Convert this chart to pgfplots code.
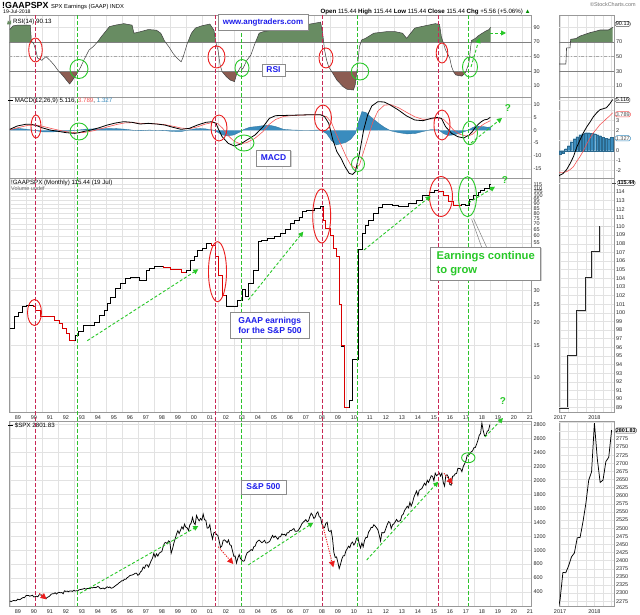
\documentclass[border=0pt]{standalone}
\usepackage{fontspec}
\setmainfont{Liberation Sans}
\usepackage{pgfplots}
\usepackage{pgfplotstable}
\pgfplotsset{compat=1.18}
\usetikzlibrary{arrows.meta,shadows}

\definecolor{rsigreen}{RGB}{104,140,98}
\definecolor{rsibrown}{RGB}{140,92,82}
\definecolor{histblue}{RGB}{58,140,190}
\definecolor{vred}{RGB}{200,40,85}
\definecolor{vgreen}{RGB}{45,195,45}
\definecolor{ered}{RGB}{235,30,30}
\definecolor{egreen}{RGB}{40,200,40}
\definecolor{txtblue}{RGB}{30,30,235}
\definecolor{gridc}{RGB}{226,226,226}
\definecolor{sigred}{RGB}{245,85,85}

\newcommand{\tlf}{\fontsize{5.5}{6}\selectfont}
\newcommand{\lgd}{\fontsize{6.2}{7}\selectfont}

\pgfplotsset{
  base/.style={scale only axis, axis line style={draw=black!40, line width=0.4pt},
    major tick length=0pt, minor tick length=0pt,
    ticklabel style={font=\tlf, text=black!85}, yticklabel pos=right,
    grid style={draw=gridc, line width=0.4pt}, ymajorgrids,
    /pgf/number format/assume math mode=true, /pgf/number format/1000 sep={},
    yticklabel style={xshift=-1.5bp}, extra y tick style={grid=major, yticklabels={}}},
  mainx/.style={base, width=522.5bp, xmin=1988.45, xmax=2021.1,
    xtick={1989,...,2021}, minor xtick={1988.5,1989.5,...,2020.5}, xminorgrids, xticklabels={}},
  minix/.style={base, width=55bp, xmin=2016.97, xmax=2018.57, xtick={2017,2018},
    minor xtick={2017.25,2017.5,2017.75,2018.25,2018.5}, xmajorgrids, xminorgrids, xticklabels={}},
  yrlabels/.style={xticklabels={89,90,91,92,93,94,95,96,97,98,99,00,01,02,03,04,05,06,07,08,09,10,11,12,13,14,15,16,17,18,19,20,21}},
}

% ---------------- data ----------------
\pgfplotstableread[row sep=\\]{x v\\
1988.50 87\\ 1988.70 92\\ 1989.00 93\\ 1989.78 93\\ 1989.85 71\\ 1989.99 68\\ 1990.12 59\\ 1990.24 48\\ 1990.50 45\\ 1990.76 50\\
1991.01 45\\ 1991.27 38.6\\ 1991.52 31\\ 1991.78 25\\ 1992.04 18\\ 1992.24 12.7\\ 1992.42 18\\ 1992.68 26\\ 1992.93 36\\ 1993.19 48\\
1993.45 59\\ 1993.70 63.5\\ 1993.96 69.5\\ 1994.21 77\\ 1994.47 84\\ 1994.73 91\\ 1995.11 93\\ 1995.62 95\\ 1996.14 93\\ 1996.26 82\\
1996.65 84\\ 1997.16 87\\ 1997.67 86\\ 1997.93 82\\ 1998.18 71\\ 1998.44 63.5\\ 1998.70 54.5\\ 1998.95 48\\ 1999.21 43\\ 1999.34 50\\
1999.59 68\\ 1999.85 82\\ 2000.10 89\\ 2000.49 92\\ 2001.00 94.5\\ 2001.26 86\\ 2001.39 68\\ 2001.51 59\\ 2001.64 38.6\\ 2001.77 29.5\\
2002.03 22.7\\ 2002.28 18\\ 2002.54 16\\ 2002.67 26\\ 2002.92 36\\ 2003.05 33\\ 2003.31 45\\ 2003.56 52\\ 2003.82 68\\ 2004.08 82\\
2004.33 84\\ 2004.84 86\\ 2005.30 88\\ 2005.87 89\\ 2006.40 91\\ 2006.89 93\\ 2007.66 96\\ 2007.92 97\\ 2008.05 82\\ 2008.17 59\\
2008.30 45\\ 2008.43 36\\ 2008.69 27\\ 2008.94 18\\ 2009.33 9\\ 2009.58 5.5\\ 2009.97 4.5\\ 2010.09 12\\ 2010.22 36\\ 2010.35 63.5\\
2010.48 72.7\\ 2010.73 75\\ 2011.25 82\\ 2012.01 84\\ 2012.60 84\\ 2013.04 82\\ 2013.30 75\\ 2013.55 82\\ 2013.81 89\\ 2014.32 91.5\\
2015.09 95\\ 2015.35 94\\ 2015.47 77\\ 2015.60 68\\ 2015.73 59\\ 2015.99 48\\ 2016.11 36\\ 2016.24 29\\ 2016.37 25\\ 2016.75 23.5\\
2016.97 28\\ 2017.17 40\\ 2017.21 45\\ 2017.29 62\\ 2017.35 72\\ 2017.60 75\\ 2017.75 78\\ 2017.95 81\\ 2018.10 83\\ 2018.25 85\\
2018.45 87\\ 2018.54 90.13\\
}\rsimain

\pgfplotstableread[row sep=\\]{x v\\
2016.97 40\\ 2017.17 40\\ 2017.19 62\\ 2017.29 62\\ 2017.31 73.6\\ 2017.44 74.5\\ 2017.46 74.5\\ 2017.58 78\\ 2017.73 80.4\\
2017.87 82.7\\ 2018.02 84.4\\ 2018.16 86.3\\ 2018.40 86.3\\ 2018.47 88\\ 2018.53 90.13\\
}\rsimini

\pgfplotstableread[row sep=\\]{x v\\
1988.50 0.38\\ 1988.96 1.68\\ 1989.47 2.33\\ 1989.86 2.33\\ 1990.24 1.68\\ 1990.50 1.03\\ 1991.01 0.12\\ 1991.52 -0.41\\
1992.04 -0.93\\ 1992.55 -1.19\\ 1992.80 -0.93\\ 1993.06 -0.54\\ 1993.57 0.12\\ 1994.09 1.03\\ 1994.60 2.07\\ 1995.11 2.85\\
1995.62 3.37\\ 1996.14 3.11\\ 1996.65 2.46\\ 1997.16 2.72\\ 1997.67 2.46\\ 1998.18 2.07\\ 1998.70 1.16\\ 1999.21 0.38\\
1999.72 0.77\\ 2000.23 2.07\\ 2000.75 3.11\\ 2001.13 3.37\\ 2001.39 2.72\\ 2001.51 0.77\\ 2001.77 -2.49\\ 2002.15 -5.09\\
2002.54 -6.14\\ 2002.92 -5.35\\ 2003.31 -3.79\\ 2003.82 -1.84\\ 2004.33 1.42\\ 2004.72 4.67\\ 2005.10 5.71\\ 2005.87 5.84\\
2006.64 5.97\\ 2007.41 6.10\\ 2007.92 6.10\\ 2008.17 5.32\\ 2008.43 2.72\\ 2008.69 -3.79\\ 2008.94 -8.35\\ 2009.20 -10.95\\
2009.45 -14.21\\ 2009.71 -16.81\\ 2009.92 -17.20\\ 2010.09 -16.15\\ 2010.35 -8.99\\ 2010.61 0.12\\ 2010.86 5.97\\ 2011.12 9.49\\
2011.50 11.18\\ 2011.89 11.05\\ 2012.27 9.88\\ 2012.78 7.93\\ 2013.30 5.58\\ 2013.81 4.02\\ 2014.32 3.76\\ 2014.83 4.67\\
2015.22 5.06\\ 2015.47 4.67\\ 2015.73 1.42\\ 2016.11 -1.19\\ 2016.50 -2.49\\ 2016.88 -3.0\\ 2017.00 -2.5\\ 2017.19 -1.9\\
2017.39 -0.6\\ 2017.58 1.07\\ 2017.78 2.4\\ 2017.97 3.4\\ 2018.16 4.1\\ 2018.35 4.3\\ 2018.53 5.116\\
}\macdmain

\pgfplotstableread[row sep=\\]{x v\\
1988.50 0.2\\ 1989.00 1.0\\ 1989.60 1.9\\ 1990.10 2.1\\ 1990.60 1.5\\ 1991.10 0.7\\ 1991.60 0.0\\ 1992.10 -0.6\\ 1992.70 -1.0\\
1993.20 -0.8\\ 1993.70 -0.2\\ 1994.20 0.6\\ 1994.70 1.5\\ 1995.20 2.3\\ 1995.70 2.9\\ 1996.20 3.0\\ 1996.70 2.7\\ 1997.20 2.6\\
1997.70 2.5\\ 1998.20 2.2\\ 1998.70 1.6\\ 1999.20 0.9\\ 1999.70 0.6\\ 2000.20 1.3\\ 2000.70 2.4\\ 2001.20 3.1\\ 2001.50 2.6\\
2001.80 0.8\\ 2002.10 -1.8\\ 2002.50 -4.2\\ 2002.90 -5.3\\ 2003.30 -4.8\\ 2003.80 -3.2\\ 2004.30 -0.6\\ 2004.70 2.3\\ 2005.10 4.2\\
2005.60 5.4\\ 2006.20 5.8\\ 2007.00 6.0\\ 2007.90 6.0\\ 2008.30 5.3\\ 2008.60 3.0\\ 2008.90 -1.5\\ 2009.20 -5.8\\ 2009.50 -10.0\\
2009.80 -13.5\\ 2010.10 -14.8\\ 2010.35 -13.5\\ 2010.60 -8.5\\ 2010.90 -2.5\\ 2011.20 3.5\\ 2011.50 7.5\\ 2011.90 9.8\\
2012.30 10.0\\ 2012.80 8.8\\ 2013.30 7.0\\ 2013.80 5.3\\ 2014.30 4.3\\ 2014.80 4.4\\ 2015.30 4.8\\ 2015.60 4.3\\ 2015.90 2.5\\
2016.20 0.3\\ 2016.60 -1.5\\ 2017.00 -2.2\\ 2017.19 -2.1\\ 2017.39 -1.6\\ 2017.58 -0.6\\ 2017.78 0.7\\ 2017.97 1.8\\ 2018.16 2.6\\
2018.35 3.2\\ 2018.53 3.789\\
}\sigmain

\pgfplotstableread[row sep=\\]{x v\\
1988.50 0\\ 1988.50 0.2\\ 1989.00 0.75\\ 1989.60 0.4\\ 1990.10 -0.1\\ 1990.60 -0.65\\ 1991.10 -0.65\\ 1991.60 -0.5\\ 1992.10 -0.35\\
1992.70 0\\ 1993.20 0.45\\ 1993.70 0.55\\ 1994.20 0.65\\ 1994.70 0.75\\ 1995.20 0.65\\ 1995.70 0.43\\ 1996.20 0.05\\ 1996.70 -0.2\\
1997.20 0.1\\ 1997.70 -0.05\\ 1998.20 -0.15\\ 1998.70 -0.45\\ 1999.20 -0.5\\ 1999.70 0.15\\ 2000.20 0.7\\ 2000.70 0.6\\ 2001.20 0.1\\
2001.50 -0.8\\ 2001.80 -1.8\\ 2002.10 -2.2\\ 2002.50 -1.8\\ 2002.90 -0.6\\ 2003.10 0.3\\ 2003.50 1.2\\ 2003.80 1.4\\ 2004.30 1.8\\ 2004.70 2.0\\
2005.10 1.5\\ 2005.60 0.4\\ 2006.20 0.1\\ 2007.00 0\\ 2007.90 0.1\\ 2008.30 -1.3\\ 2008.60 -4.0\\ 2008.90 -5.7\\ 2009.20 -5.2\\
2009.50 -4.7\\ 2009.80 -3.5\\ 2010.10 -1.2\\ 2010.30 3.5\\ 2010.50 7.3\\ 2010.75 7.0\\ 2011.00 5.5\\ 2011.30 4.0\\ 2011.60 2.5\\
2011.90 1.2\\ 2012.30 -0.2\\ 2012.80 -0.9\\ 2013.30 -1.4\\ 2013.80 -1.3\\ 2014.30 -0.5\\ 2014.80 0.25\\ 2015.30 0.15\\ 2015.60 -1.3\\
2015.90 -2.0\\ 2016.20 -1.8\\ 2016.60 -1.2\\ 2017.00 -0.3\\ 2017.19 0.2\\ 2017.39 1.0\\ 2017.58 1.5\\ 2017.78 1.6\\ 2017.97 1.5\\
2018.16 1.4\\ 2018.35 1.2\\ 2018.53 1.327\\ 2018.53 0\\
}\histmain

\pgfplotstableread[row sep=\\]{x v\\
2016.97 -2.5\\ 2017.08 -2.3\\ 2017.19 -1.9\\ 2017.29 -1.3\\ 2017.39 -0.6\\ 2017.48 0.3\\ 2017.58 1.07\\ 2017.68 1.8\\ 2017.78 2.4\\
2017.88 2.9\\ 2017.97 3.4\\ 2018.07 3.8\\ 2018.16 4.1\\ 2018.26 4.2\\ 2018.35 4.3\\ 2018.45 4.7\\ 2018.53 5.116\\
}\macdmini

\pgfplotstableread[row sep=\\]{x v\\
2016.97 -2.2\\ 2017.08 -2.2\\ 2017.19 -2.1\\ 2017.29 -1.9\\ 2017.39 -1.6\\ 2017.48 -1.1\\ 2017.58 -0.6\\ 2017.68 0.0\\ 2017.78 0.7\\
2017.88 1.3\\ 2017.97 1.8\\ 2018.07 2.2\\ 2018.16 2.6\\ 2018.26 2.9\\ 2018.35 3.2\\ 2018.45 3.5\\ 2018.53 3.789\\
}\sigmini

\pgfplotstableread[row sep=\\]{x v\\
2017.000 -0.35\\ 2017.083 -0.25\\ 2017.167 0.2\\ 2017.250 0.5\\ 2017.333 0.9\\ 2017.417 1.2\\ 2017.500 1.4\\ 2017.583 1.6\\
2017.667 1.7\\ 2017.750 1.8\\ 2017.833 1.8\\ 2017.917 1.75\\ 2018.000 1.7\\ 2018.083 1.6\\ 2018.167 1.5\\ 2018.250 1.35\\
2018.333 1.25\\ 2018.417 1.2\\ 2018.500 1.327\\
}\histmini

\pgfplotstableread[row sep=\\]{x v\\
1988.52 18.5\\ 1988.80 21.8\\ 1989.05 22.7\\ 1989.25 24.5\\ 1989.55 25.0\\ 1989.95 24.5\\ 1990.12 23.5\\ 1990.40 21.8\\
1990.90 21.6\\ 1991.30 20.7\\ 1991.60 19.8\\ 1991.80 18.6\\ 1992.00 17.5\\ 1992.20 16.0\\ 1992.60 17.1\\ 1992.80 18.0\\
1993.10 19.4\\ 1993.80 20.2\\ 1994.10 22.0\\ 1994.40 23.5\\ 1994.60 25.6\\ 1994.80 27.5\\ 1995.10 30.9\\ 1995.40 32.9\\
1995.70 35.1\\ 1996.00 35.5\\ 1996.60 34.4\\ 1997.00 39.0\\ 1997.20 39.8\\ 1997.50 41.1\\ 1998.10 40.4\\ 1998.50 39.5\\
1999.20 38.1\\ 1999.50 39.0\\ 1999.80 44.2\\ 2000.00 46.1\\ 2000.20 50.3\\ 2000.50 51.3\\ 2000.80 54.6\\ 2001.10 53.5\\
2001.35 46.1\\ 2001.50 36.6\\ 2001.75 28.4\\ 2002.00 24.7\\ 2002.70 26.6\\ 2003.00 30.5\\ 2003.20 28.0\\ 2003.40 32.9\\
2003.70 39.0\\ 2004.00 55.8\\ 2004.20 56.6\\ 2004.60 58.2\\ 2005.00 59.5\\ 2005.40 62.1\\ 2005.70 65.2\\ 2006.00 70.5\\
2006.30 73.6\\ 2006.60 76.5\\ 2006.80 81.6\\ 2007.00 83.3\\ 2007.50 85.1\\ 2007.90 87.2\\ 2008.10 73.6\\ 2008.20 66.1\\
2008.50 60.7\\ 2008.70 51.3\\ 2008.90 46.6\\ 2009.10 25.2\\ 2009.20 14.9\\ 2009.40 6.8\\ 2009.70 7.5\\ 2009.90 12.5\\
2010.25 50.9\\ 2010.50 62.1\\ 2010.70 69.0\\ 2010.90 73.6\\ 2011.20 80.0\\ 2011.50 86.1\\ 2011.80 89.6\\ 2012.40 88.9\\
2012.80 87.8\\ 2013.40 90.9\\ 2013.90 94.9\\ 2014.30 101.1\\ 2014.70 104.1\\ 2015.00 106.7\\ 2015.30 105.5\\ 2015.60 101.0\\
2015.90 92.9\\ 2016.20 88.9\\ 2016.70 89.6\\ 2016.97 89.0\\ 2017.24 95.0\\ 2017.49 100.2\\ 2017.75 104.0\\ 2017.93 107.0\\
2018.17 110.0\\ 2018.47 115.44\\ 2018.56 115.44\\
}\earn

\pgfplotstableread[row sep=\\]{x v\\
2016.97 89.0\\ 2017.24 95.0\\ 2017.49 100.2\\ 2017.75 104.0\\ 2017.93 107.0\\ 2018.17 110.0\\ 2018.47 110.0\\
}\earnmini

% S&P 500 monthly closes from Jul 1988 (one value per month)
\pgfplotstableread[row sep=\\]{v\\
272.0\\ 261.5\\ 271.9\\ 278.9\\ 273.7\\ 277.7\\
297.5\\ 288.9\\ 294.9\\ 309.6\\ 320.5\\ 317.9\\ 346.1\\ 351.5\\ 349.2\\ 340.4\\ 345.9\\ 353.4\\
329.1\\ 331.9\\ 339.9\\ 330.8\\ 361.2\\ 358.0\\ 356.2\\ 322.6\\ 306.1\\ 304.0\\ 322.2\\ 330.2\\
343.9\\ 367.1\\ 375.2\\ 375.3\\ 389.8\\ 371.2\\ 387.8\\ 395.4\\ 387.9\\ 392.5\\ 375.2\\ 417.1\\
408.8\\ 412.7\\ 403.7\\ 414.9\\ 415.4\\ 408.1\\ 424.2\\ 414.0\\ 417.8\\ 418.7\\ 431.4\\ 435.7\\
438.8\\ 443.4\\ 451.7\\ 440.2\\ 450.2\\ 450.5\\ 448.1\\ 463.6\\ 458.9\\ 467.8\\ 461.8\\ 466.5\\
481.6\\ 467.1\\ 445.8\\ 450.9\\ 456.5\\ 444.3\\ 458.3\\ 475.5\\ 462.7\\ 472.4\\ 454.0\\ 459.3\\
470.4\\ 487.4\\ 500.7\\ 514.7\\ 533.4\\ 544.8\\ 562.1\\ 561.9\\ 584.4\\ 581.5\\ 605.4\\ 615.9\\
636.0\\ 640.4\\ 645.5\\ 654.2\\ 669.1\\ 670.6\\ 639.9\\ 652.0\\ 687.3\\ 705.3\\ 757.0\\ 740.7\\
786.2\\ 790.8\\ 757.1\\ 801.3\\ 848.3\\ 885.1\\ 954.3\\ 899.5\\ 947.3\\ 914.6\\ 955.4\\ 970.4\\
980.3\\ 1049.3\\ 1101.8\\ 1111.8\\ 1090.8\\ 1133.8\\ 1120.7\\ 957.3\\ 1017.0\\ 1098.7\\ 1163.6\\ 1229.2\\
1279.6\\ 1238.3\\ 1286.4\\ 1335.2\\ 1301.8\\ 1372.7\\ 1328.7\\ 1320.4\\ 1282.7\\ 1362.9\\ 1388.9\\ 1469.3\\
1394.5\\ 1366.4\\ 1498.6\\ 1452.4\\ 1420.6\\ 1454.6\\ 1430.8\\ 1517.7\\ 1436.5\\ 1429.4\\ 1315.2\\ 1320.3\\
1366.0\\ 1239.9\\ 1160.3\\ 1249.5\\ 1255.8\\ 1224.4\\ 1211.2\\ 1133.6\\ 1040.9\\ 1059.8\\ 1139.5\\ 1148.1\\
1130.2\\ 1106.7\\ 1147.4\\ 1076.9\\ 1067.1\\ 989.8\\ 911.6\\ 916.1\\ 815.3\\ 885.8\\ 936.3\\ 879.8\\
855.7\\ 841.2\\ 848.2\\ 916.9\\ 963.6\\ 974.5\\ 990.3\\ 1008.0\\ 996.0\\ 1050.7\\ 1058.2\\ 1111.9\\
1131.1\\ 1144.9\\ 1126.2\\ 1107.3\\ 1120.7\\ 1140.8\\ 1101.7\\ 1104.2\\ 1114.6\\ 1130.2\\ 1173.8\\ 1211.9\\
1181.3\\ 1203.6\\ 1180.6\\ 1156.9\\ 1191.5\\ 1191.3\\ 1234.2\\ 1220.3\\ 1228.8\\ 1207.0\\ 1249.5\\ 1248.3\\
1280.1\\ 1280.7\\ 1294.8\\ 1310.6\\ 1270.1\\ 1270.2\\ 1276.7\\ 1303.8\\ 1335.9\\ 1377.9\\ 1400.6\\ 1418.3\\
1438.2\\ 1406.8\\ 1420.9\\ 1482.4\\ 1530.6\\ 1503.4\\ 1455.3\\ 1474.0\\ 1526.8\\ 1549.4\\ 1481.1\\ 1468.4\\
1378.6\\ 1330.6\\ 1322.7\\ 1385.6\\ 1400.4\\ 1280.0\\ 1267.4\\ 1282.8\\ 1166.4\\ 968.8\\ 896.2\\ 903.3\\
825.9\\ 735.1\\ 797.9\\ 872.8\\ 919.1\\ 919.3\\ 987.5\\ 1020.6\\ 1057.1\\ 1036.2\\ 1095.6\\ 1115.1\\
1073.9\\ 1104.5\\ 1169.4\\ 1186.7\\ 1089.4\\ 1030.7\\ 1101.6\\ 1049.3\\ 1141.2\\ 1183.3\\ 1180.6\\ 1257.6\\
1286.1\\ 1327.2\\ 1325.8\\ 1363.6\\ 1345.2\\ 1320.6\\ 1292.3\\ 1218.9\\ 1131.4\\ 1253.3\\ 1247.0\\ 1257.6\\
1312.4\\ 1365.7\\ 1408.5\\ 1397.9\\ 1310.3\\ 1362.2\\ 1379.3\\ 1406.6\\ 1440.7\\ 1412.2\\ 1416.2\\ 1426.2\\
1498.1\\ 1514.7\\ 1569.2\\ 1597.6\\ 1630.7\\ 1606.3\\ 1685.7\\ 1633.0\\ 1681.6\\ 1756.5\\ 1805.8\\ 1848.4\\
1782.6\\ 1859.5\\ 1872.3\\ 1884.0\\ 1923.6\\ 1960.2\\ 1930.7\\ 2003.4\\ 1972.3\\ 2018.1\\ 2067.6\\ 2058.9\\
1995.0\\ 2104.5\\ 2067.9\\ 2085.5\\ 2107.4\\ 2063.1\\ 2103.8\\ 1972.2\\ 1920.0\\ 2079.4\\ 2080.4\\ 2043.9\\
1940.2\\ 1932.2\\ 2059.7\\ 2065.3\\ 2097.0\\ 2098.9\\ 2173.6\\ 2171.0\\ 2168.3\\ 2126.2\\ 2199.0\\ 2238.8\\
2278.9\\ 2363.6\\ 2362.7\\ 2384.2\\ 2411.8\\ 2423.4\\ 2470.3\\ 2471.7\\ 2519.4\\ 2575.3\\ 2647.6\\ 2673.6\\
2823.8\\ 2713.8\\ 2640.9\\ 2648.1\\ 2705.3\\ 2718.4\\ 2801.8\\
}\spx

\begin{document}
\begin{tikzpicture}
\path[use as bounding box, fill=white] (0,0) rectangle (640bp,615bp);

% ===== RSI main =====
\begin{axis}[mainx, at={(9bp,518bp)}, anchor=south west, height=82bp, ymin=-5, ymax=106.8, ytick={10,30,50,70,90}]
\addplot[fill=rsigreen, draw=none] coordinates {(1988.50,70) (1988.50,87) (1988.70,92) (1989.00,93) (1989.78,93) (1989.85,71) (1989.897,70)};
\addplot[fill=rsigreen, draw=none] coordinates {(1993.977,70) (1994.21,77) (1994.47,84) (1994.73,91) (1995.11,93) (1995.62,95) (1996.14,93) (1996.26,82) (1996.65,84) (1997.16,87) (1997.67,86) (1997.93,82) (1998.18,71) (1998.215,70)};
\addplot[fill=rsigreen, draw=none] coordinates {(1999.627,70) (1999.85,82) (2000.10,89) (2000.49,92) (2001.00,94.5) (2001.26,86) (2001.376,70)};
\addplot[fill=rsigreen, draw=none] coordinates {(2003.857,70) (2004.08,82) (2004.33,84) (2004.84,86) (2005.30,88) (2005.87,89) (2006.40,91) (2006.89,93) (2007.66,96) (2007.92,97) (2008.05,82) (2008.113,70)};
\addplot[fill=rsigreen, draw=none] coordinates {(2010.442,70) (2010.48,72.7) (2010.73,75) (2011.25,82) (2012.01,84) (2012.60,84) (2013.04,82) (2013.30,75) (2013.55,82) (2013.81,89) (2014.32,91.5) (2015.09,95) (2015.35,94) (2015.47,77) (2015.571,70)};
\addplot[fill=rsigreen, draw=none] coordinates {(2017.338,70) (2017.35,72) (2017.60,75) (2017.75,78) (2017.95,81) (2018.10,83) (2018.25,85) (2018.45,87) (2018.54,90.13) (2018.54,70)};
\addplot[fill=rsibrown, draw=none] coordinates {(1991.563,30) (1991.78,25) (1992.04,18) (1992.24,12.7) (1992.42,18) (1992.68,26) (1992.78,30)};
\addplot[fill=rsibrown, draw=none] coordinates {(2001.763,30) (2001.77,29.5) (2002.03,22.7) (2002.28,18) (2002.54,16) (2002.67,26) (2002.77,30)};
\addplot[fill=rsibrown, draw=none] coordinates {(2008.603,30) (2008.69,27) (2008.94,18) (2009.33,9) (2009.58,5.5) (2009.97,4.5) (2010.09,12) (2010.1875,30)};
\addplot[fill=rsibrown, draw=none] coordinates {(2016.221,30) (2016.24,29) (2016.37,25) (2016.75,23.5) (2016.97,28) (2017.003,30)};
\draw[black!50, line width=0.5pt] (axis cs:1988.45,70) -- (axis cs:2021.1,70);
\draw[black!50, line width=0.5pt] (axis cs:1988.45,30) -- (axis cs:2021.1,30);
\draw[black!35, line width=0.5pt, dash dot] (axis cs:1988.45,50) -- (axis cs:2021.1,50);
\addplot[black!75, line width=0.5pt] table[x=x,y=v]{\rsimain};
\end{axis}

% ===== MACD main =====
\begin{axis}[mainx, at={(9bp,437bp)}, anchor=south west, height=81bp, ymin=-18.6, ymax=13.0, ytick={-15,-10,-5,0,5,10}]
\addplot[fill=histblue, draw=histblue!80!black, line width=0.3pt] table[x=x,y=v]{\histmain};
\addplot[sigred, line width=0.6pt] table[x=x,y=v]{\sigmain};
\addplot[black, line width=0.8pt] table[x=x,y=v]{\macdmain};
\end{axis}

% ===== Earnings main =====
\begin{axis}[mainx, yrlabels, at={(9bp,203bp)}, anchor=south west, height=234bp, ymode=log, ymin=6.44, ymax=125.2,
  ytick={10,15,20,25,30,35,40,45,50,55,60,65,70,75,80,85,90,95,100,105,110,115},
  yticklabels={10,15,20,25,30,35,40,45,50,55,60,65,70,75,80,85,90,95,100,105,110,115}, yminorgrids=false]
\addplot[const plot, black, line width=0.6pt] table[x=x,y=v]{\earn};
\addplot[const plot, red!85!black, line width=0.6pt] coordinates {(1989.95,25.0) (1989.95,24.5) (1990.12,23.5) (1990.40,21.8) (1990.90,21.6) (1991.30,20.7) (1991.60,19.8) (1991.80,18.6) (1992.00,17.5) (1992.20,16.0) (1992.60,16.0)};
\addplot[const plot, red!85!black, line width=0.6pt] coordinates {(1998.10,41.1) (1998.10,40.4) (1998.50,39.5) (1999.20,38.1) (1999.50,38.1)};
\addplot[const plot, red!85!black, line width=0.6pt] coordinates {(2001.10,54.6) (2001.10,53.5) (2001.35,46.1) (2001.50,36.6) (2001.75,28.4) (2002.00,28.4)};
\addplot[const plot, red!85!black, line width=0.7pt] coordinates {(2008.10,87.2) (2008.10,73.6) (2008.20,66.1) (2008.50,60.7) (2008.70,51.3) (2008.90,46.6) (2009.10,25.2) (2009.20,14.9) (2009.40,6.8) (2009.70,6.8)};
\addplot[const plot, red!85!black, line width=0.6pt] coordinates {(2015.30,106.7) (2015.30,105.5) (2015.60,101.0) (2015.90,92.9) (2016.20,88.9) (2016.70,88.9)};
\end{axis}

% ===== S&P 500 main =====
\begin{axis}[mainx, yrlabels, at={(9bp,9bp)}, anchor=south west, height=185bp, ymin=199, ymax=2853,
  ytick={400,600,...,2800}]
\addplot[black, line width=0.75pt] table[x expr={1988.5+\coordindex/12}, y=v]{\spx};
\end{axis}

% ===== RSI mini =====
\begin{axis}[minix, at={(559bp,518bp)}, anchor=south west, height=82bp, ymin=-5, ymax=106.8, ytick={10,30,50,70}, extra y ticks={90}]
\addplot[fill=rsigreen, draw=none] coordinates {(2017.304,70) (2017.31,73.6) (2017.44,74.5) (2017.46,74.5) (2017.58,78) (2017.73,80.4) (2017.87,82.7) (2018.02,84.4) (2018.16,86.3) (2018.40,86.3) (2018.47,88) (2018.53,90.13) (2018.53,70)};
\draw[black!50, line width=0.5pt] (axis cs:2016.97,70) -- (axis cs:2018.57,70);
\draw[black!50, line width=0.5pt] (axis cs:2016.97,30) -- (axis cs:2018.57,30);
\draw[black!35, line width=0.5pt, dash dot] (axis cs:2016.97,50) -- (axis cs:2018.57,50);
\addplot[black!75, line width=0.6pt] table[x=x,y=v]{\rsimini};
\end{axis}

% ===== MACD mini =====
\begin{axis}[minix, at={(559bp,437bp)}, anchor=south west, height=81bp, ymin=-2.73, ymax=5.37, ytick={-2,-1,0,2,3}, extra y ticks={1,4,5}]
\addplot[ybar, bar width=0.072, fill=histblue, draw=histblue!75!black, line width=0.2pt] table[x=x,y=v]{\histmini};
\addplot[sigred, line width=0.6pt] table[x=x,y=v]{\sigmini};
\addplot[black, line width=0.8pt] table[x=x,y=v]{\macdmini};
\end{axis}

% ===== Earnings mini =====
\begin{axis}[minix, xticklabels={2017,2018}, at={(559bp,203bp)}, anchor=south west, height=234bp, ymin=88.5, ymax=115.62,
  ytick={89,90,...,114}, extra y ticks={115}]
\addplot[const plot, black!85, line width=1.8pt] table[x=x,y=v]{\earnmini};
\addplot[const plot, black!15, line width=0.6pt] table[x=x,y=v]{\earnmini};
\end{axis}

% ===== S&P mini =====
\begin{axis}[minix, xticklabels={2017,2018}, at={(559bp,9bp)}, anchor=south west, height=185bp, ymin=2260.3, ymax=2830.2,
  ytick={2275,2300,...,2775}, extra y ticks={2800,2825}]
\addplot[black, line width=0.75pt] table[x expr={1988.5+\coordindex/12}, y=v]{\spx};
\end{axis}

% ===== annotations (pixel coordinates, y downward) =====
\begin{scope}[x=1bp, y=-1bp, yshift=615bp]
% header
\node[anchor=base west, inner sep=0] at (2,9) {{\fontsize{8.9}{9}\selectfont\bfseries !GAAPSPX}\hspace{2.5bp}{\fontsize{5.8}{6}\selectfont SPX Earnings (GAAP) INDX}};
\node[anchor=base west, inner sep=0, font=\fontsize{5.2}{6}\selectfont] at (3,14) {19-Jul-2018};
\node[anchor=base east, inner sep=0, font=\fontsize{5.5}{6}\selectfont, text=black!55] at (636,7) {\textcopyright StockCharts.com};
\node[anchor=base east, inner sep=0, font=\fontsize{6.2}{7}\selectfont] at (531,14) {\textbf{Open} 115.44 \textbf{High} 115.44 \textbf{Low} 115.44 \textbf{Close} 115.44 \textbf{Chg} +5.56 (+5.06\%) {\color{green!55!black}▲}};
% legends
\fill[rsigreen] (7,24.5) -- (8,20.5) -- (9.5,22.5) -- (11,20) -- (11,24.5) -- cycle;
\node[anchor=west, inner sep=0, font=\lgd] at (13,22.3) {RSI(14) 90.13};
\node[anchor=west, inner sep=0, font=\lgd] at (8,101.3) {\rule[0.55ex]{5bp}{0.9pt} MACD(12,26,9) 5.116, \textcolor{sigred}{3.789}, \textcolor{histblue}{1.327}};
\node[anchor=west, inner sep=0, font=\lgd] at (11,182.5) {!GAAPSPX (Monthly) 115.44 (19 Jul)};
\node[anchor=west, inner sep=0, font=\fontsize{5.5}{6}\selectfont, text=black!60] at (11,188.5) {Volume undef};
\node[anchor=west, inner sep=0, font=\lgd] at (8,425.5) {\rule[0.55ex]{5bp}{0.9pt} \$SPX 2801.83};
% value tags on mini panels
\tikzset{tag/.style={draw=#1, rounded corners=1.5bp, fill=white, inner sep=0.7bp, font=\fontsize{5.5}{6}\selectfont, anchor=west}}
\node[tag=black!70] at (615,24) {90.13};
\node[tag=black!70] at (615,100) {5.116};
\node[tag=sigred, text=black!70] at (615,114.3) {3.789};
\node[tag=histblue, text=black!70] at (615,138.3) {1.327};
\node[tag=black!70, font=\fontsize{5.5}{6}\selectfont\bfseries] at (617,183) {115.44};
\draw[black!70] (612,183) -- (615.5,183);
\node[tag=black!70, font=\fontsize{5.5}{6}\selectfont\bfseries] at (615,430.5) {2801.83};

% vertical dashed lines
\foreach \xx in {35.7,215.7,322.3,438.7} \draw[vred, line width=1.2pt, dash pattern=on 4bp off 2bp] (\xx,15) -- (\xx,606);
\foreach \xx in {77.3,241.7,357.7,468.3} \draw[vgreen, line width=1.0pt, dash pattern=on 4bp off 2bp] (\xx,15) -- (\xx,606);

% ellipses
\tikzset{re/.style={draw=ered, line width=0.9pt}, ge/.style={draw=egreen, line width=0.9pt}}
\draw[re] (35.5,50) ellipse [x radius=6.8, y radius=12];
\draw[re] (216.5,57) ellipse [x radius=8.5, y radius=11];
\draw[re] (326,58) ellipse [x radius=7, y radius=10];
\draw[re] (442,53) ellipse [x radius=5.8, y radius=10];
\draw[re] (36,126.5) ellipse [x radius=5, y radius=11.5];
\draw[re] (219,128) ellipse [x radius=8, y radius=13];
\draw[re] (323,118) ellipse [x radius=8.5, y radius=13];
\draw[re] (442,125) ellipse [x radius=8, y radius=15];
\draw[re] (34.5,312.5) ellipse [x radius=7, y radius=13];
\draw[re] (217.5,271.7) ellipse [x radius=9, y radius=30];
\draw[re] (321.7,216) ellipse [x radius=9, y radius=27];
\draw[re] (441,196.5) ellipse [x radius=11.5, y radius=20];
\draw[ge] (79,69) ellipse [x radius=9, y radius=9.5];
\draw[ge] (242,68) ellipse [x radius=7, y radius=8.5];
\draw[ge] (360,71.5) ellipse [x radius=8.7, y radius=8.5];
\draw[ge] (470,67) ellipse [x radius=7.5, y radius=10];
\draw[ge] (79,131.5) ellipse [x radius=9, y radius=8.5];
\draw[ge] (244,143) ellipse [x radius=10, y radius=8];
\draw[ge] (358,164) ellipse [x radius=6.5, y radius=7.5];
\draw[ge] (470,133) ellipse [x radius=7.5, y radius=11.7];
\draw[ge] (467.5,196.7) ellipse [x radius=9, y radius=20];
\draw[ge] (468.3,457.7) ellipse [x radius=6.7, y radius=5];

% arrows
\tikzset{ga/.style={draw=egreen, line width=0.9pt, dash pattern=on 3bp off 2bp, -{Triangle[length=5bp,width=5bp,fill=egreen]}},
         ra/.style={draw=ered, line width=0.9pt, dash pattern=on 1.2bp off 1.2bp, -{Triangle[length=6bp,width=6bp,fill=ered]}}}
\draw[ga] (471,67) -- (479.5,38);
\draw[ga] (490,33) -- (506,33);
\draw[ga] (471,143) -- (502,118);
\draw[ga] (87.3,340.7) -- (198.3,269.3);
\draw[ga] (248.3,300) -- (303.3,231.7);
\draw[ga] (364,250) -- (430.7,196);
\draw[ga] (468.3,203) -- (495,186.7);
\draw[ga] (80,593.3) -- (198.3,526);
\draw[ga] (248.3,565) -- (313.3,522.7);
\draw[ga] (366.7,560) -- (438.3,481.7);
\draw[ga] (485,437) -- (503,418);
\draw[ra] (39.3,593.3) -- (46.7,599.3);
\draw[ra] (218.3,546.7) -- (233.3,564);
\draw[ra] (322.7,525) -- (333.3,567.3);
\draw[ra] (444,473.3) -- (452.7,484);

% question marks
\foreach \p in {(508,108),(505,180),(503,401)} \node[text=egreen, font=\fontsize{10}{11}\selectfont\bfseries] at \p {?};

% connector lines
\draw[black!50, line width=0.5pt] (471.7,219.3) -- (481.7,247.3);
\draw[black!50, line width=0.5pt] (473.5,218.5) -- (486.7,247.3);

% text boxes
\tikzset{tb/.style={draw=black!45, fill=white, line width=0.5pt, drop shadow={shadow xshift=1bp, shadow yshift=-1bp, opacity=0.35}}}
\node[tb, minimum width=90bp, minimum height=16bp, inner sep=0, text=txtblue, font=\fontsize{8}{9}\selectfont\bfseries] at (263,22.5) {www.angtraders.com};
\node[tb, minimum width=23bp, minimum height=12bp, inner sep=0, text=txtblue, font=\fontsize{8.5}{9}\selectfont\bfseries] at (273.5,70) {RSI};
\node[tb, minimum width=34bp, minimum height=16bp, inner sep=0, text=txtblue, font=\fontsize{8.5}{9}\selectfont\bfseries] at (273.5,158) {MACD};
\node[tb, minimum width=78.6bp, minimum height=25.6bp, inner sep=0, text=txtblue, font=\fontsize{8.6}{10.5}\selectfont\bfseries, align=left] at (270,325.5) {GAAP earnings\\for the S\&P 500};
\node[tb, minimum width=110bp, minimum height=33bp, inner sep=0, text=egreen, font=\fontsize{11.3}{14}\selectfont\bfseries, align=left] at (485.7,263.5) {Earnings continue\\to grow};
\node[tb, minimum width=45bp, minimum height=14bp, inner sep=0, text=txtblue, font=\fontsize{8.5}{9}\selectfont\bfseries] at (263.3,487) {S\&P 500};
\end{scope}
\end{tikzpicture}
\end{document}
